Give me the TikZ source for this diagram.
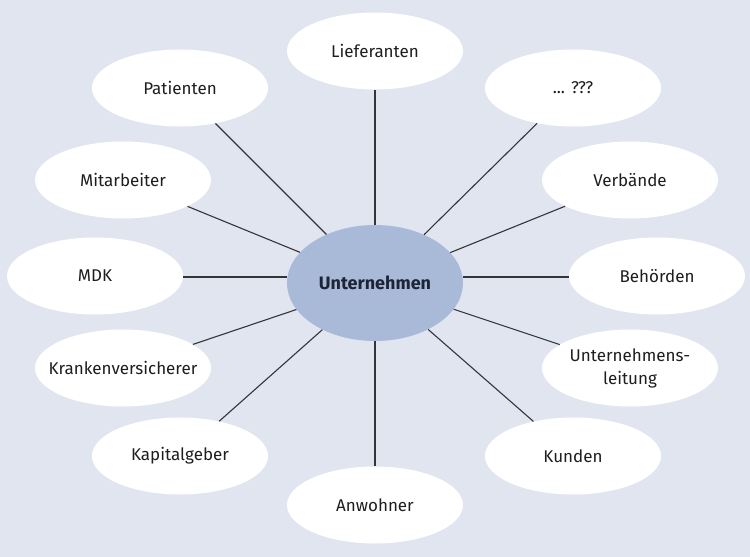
\documentclass[tikz,border=0pt]{standalone}
\usepackage{fontspec}
\setmainfont{Fira Sans}
\usetikzlibrary{shapes.geometric}
\definecolor{bgc}{HTML}{E1E5F0}
\definecolor{hubc}{HTML}{A9BAD8}
\definecolor{linec}{HTML}{34343A}
\definecolor{txtc}{HTML}{1E1E1E}
\definecolor{hubtxt}{HTML}{1C2436}
\tikzset{
  leaf/.style={ellipse, fill=white, draw=none, minimum width=176pt, minimum height=77pt, inner xsep=-16pt, inner ysep=-5pt, font=\fontsize{17}{23}\selectfont, text=txtc, align=center},
  hub/.style={ellipse, fill=hubc, draw=none, minimum width=176pt, minimum height=116pt, inner sep=0pt, font=\fontsize{18}{23}\selectfont\bfseries, text=hubtxt},
  spoke/.style={draw=linec, line width=1.1pt}
}
\begin{document}
\begin{tikzpicture}[x=1pt,y=-1pt]
\fill[bgc] (0,0) rectangle (750,557);
\useasboundingbox (0,0) rectangle (750,557);
\node[hub] (u) at (375,283) {Unternehmen};
\node[leaf] (lief) at (375,51) {Lieferanten};
\node[leaf] (pat) at (180,88) {Patienten};
\node[leaf] (q) at (573,88) {... ???};
\node[leaf] (mit) at (123,180) {Mitarbeiter};
\node[leaf] (verb) at (630,180) {Verbände};
\node[leaf] (mdk) at (95,276) {MDK};
\node[leaf] (beh) at (657,276) {Behörden};
\node[leaf] (kv) at (123,368) {Krankenversicherer};
\node[leaf] (ul) at (630,368) {Unternehmens-\\leitung};
\node[leaf] (kap) at (180,456) {Kapitalgeber};
\node[leaf] (kun) at (573,456) {Kunden};
\node[leaf] (anw) at (375,505) {Anwohner};
\coordinate (mdkend) at ([yshift=-1pt]u.west |- mdk.east);
\coordinate (behend) at ([yshift=-1pt]u.east |- beh.west);
\foreach \n in {lief,pat,q,mit,verb,kv,ul,kap,kun,anw}
  \draw[spoke] (u) -- (\n);
\draw[spoke] ([yshift=-1pt]mdk.east) -- ([xshift=0.5pt]mdkend);
\draw[spoke] ([yshift=-1pt]beh.west) -- ([xshift=-0.5pt]behend);
\end{tikzpicture}
\end{document}
